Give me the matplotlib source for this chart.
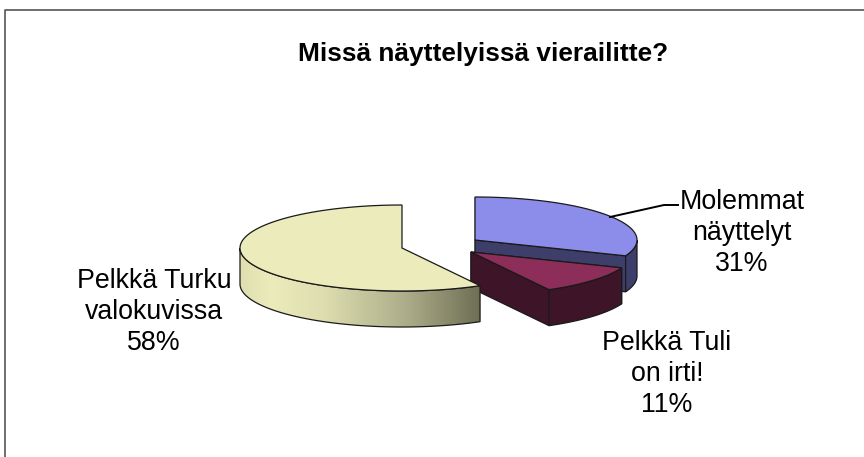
import numpy as np
import matplotlib
matplotlib.use('Agg')
import matplotlib.pyplot as plt
from matplotlib.patches import Polygon
from matplotlib.colors import LinearSegmentedColormap

plt.rcParams['font.family'] = ['Liberation Sans', 'DejaVu Sans']

title = 'Missä näyttelyissä vierailitte?'
labels = ['Molemmat\nnäyttelyt\n31%', 'Pelkkä Tuli\non irti!\n11%', 'Pelkkä Turku\nvalokuvissa\n58%']
values = [31, 11, 58]

# pixel layout of the 3d pie
rx, ry, depth = 162, 43, 36
centers = [(475, 240), (471, 252), (402, 248)]
top_cols = ['#8C8CEB', '#8C2D5A', '#EBEBBB']
wall_cols = ['#3E3E6B', '#3E1428']
label_pos = [(742, 233), (667, 374), (154, 312)]
edge = '#1a1a1a'

# slice angles, clockwise from 12 o'clock
fr = np.cumsum([0] + values) / sum(values)
start = np.pi / 2 - 2 * np.pi * fr[:-1]
end = np.pi / 2 - 2 * np.pi * fr[1:]


def arc(c, a0, a1, dy=0):
    t = np.linspace(a0, a1, 200)
    return np.column_stack([c[0] + rx * np.cos(t), c[1] - ry * np.sin(t) + dy])


def wall(c, a0, a1):
    return np.vstack([arc(c, a0, a1), arc(c, a0, a1, depth)[::-1]])


def draw_top(i):
    c = centers[i]
    ax.add_patch(Polygon(np.vstack([[c], arc(c, start[i], end[i])]),
                         fc=top_cols[i], ec=edge, lw=0.9, zorder=2))


def draw_dark_slice(i):
    c = centers[i]
    # cut faces
    for a in (start[i], end[i]):
        p = arc(c, a, a)[0]
        f = np.array([c, p, p + [0, depth], np.array(c) + [0, depth]])
        ax.add_patch(Polygon(f, fc=wall_cols[i], ec=edge, lw=0.9, zorder=2))
    # outer wall, only the part below the middle faces the viewer
    ax.add_patch(Polygon(wall(c, min(start[i], 0), end[i]), fc=wall_cols[i], ec=edge, lw=0.9, zorder=2))
    draw_top(i)


fig = plt.figure(figsize=(8.64, 4.57), dpi=100)
ax = fig.add_axes([0, 0, 1, 1])

# chart frame, only top and left are inside the picture
ax.plot([4.5, 4.5, 864], [457, 9.5, 9.5], color='#555555', lw=1.2)

draw_dark_slice(0)
ax.plot([610, 664, 678], [217, 205, 205], color='black', lw=1.4)
draw_dark_slice(1)

# yellow slice sits in front, its wall has a gradient
c = centers[2]
ring = wall(c, start[2], -np.pi)
grad = LinearSegmentedColormap.from_list('y', [(0, '#DEDEB0'), (0.13, '#EBEBBB'), (0.35, '#DDDDB0'),
                                               (0.7, '#ABAB88'), (1, '#6E6E55')])
patch = Polygon(ring, fc='none', ec='none', zorder=3)
ax.add_patch(patch)
im = ax.imshow(np.linspace(0, 1, 256).reshape(1, -1), cmap=grad, aspect='auto', zorder=3,
               extent=[ring[:, 0].min(), ring[:, 0].max(), ring[:, 1].max(), ring[:, 1].min()])
im.set_clip_path(patch)
ax.add_patch(Polygon(ring, fc='none', ec=edge, lw=0.9, zorder=3))
ax.add_patch(Polygon(np.vstack([[c], arc(c, start[2], start[2] - 2 * np.pi * values[2] / sum(values))]),
                     fc=top_cols[2], ec=edge, lw=0.9, zorder=3))

ax.text(483, 54, title, fontsize=18.9, fontweight='bold', ha='center', va='center')
for txt, (x, y) in zip(labels, label_pos):
    ax.text(x, y, txt, fontsize=19.3, ha='center', va='center', linespacing=1.23)

ax.set_xlim(0, 864)
ax.set_ylim(457, 0)
ax.axis('off')
fig.savefig('out.png', dpi=100)
